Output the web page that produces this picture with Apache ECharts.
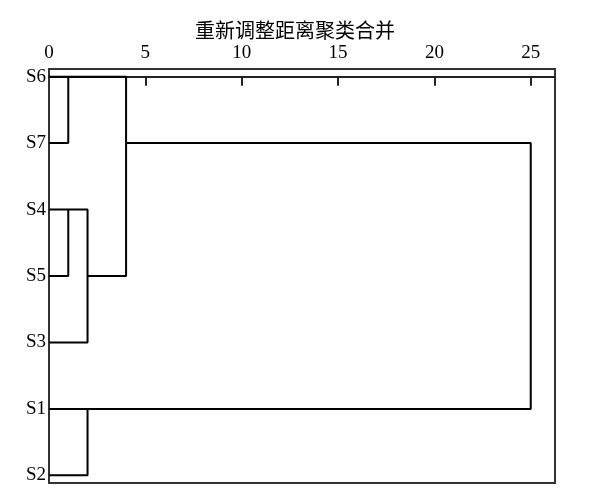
<!DOCTYPE html>
<html>
<head>
<meta charset="utf-8">
<script src="https://cdn.jsdelivr.net/npm/echarts@6/dist/echarts.min.js"></script>
<style>
    html, body { margin: 0; padding: 0; background: #fff; }
    #main { width: 602px; height: 501px; }
</style>
</head>
<body>
<div id="main"></div>
<script>
// leaves, top to bottom
var leafLabels = ['S6', 'S7', 'S4', 'S5', 'S3', 'S1', 'S2'];
// merges: node ids 0..6 are leaves, 7.. are merges in this order
var mergeLeft = [0, 2, 8, 7, 5, 10];
var mergeRight = [1, 3, 4, 9, 6, 11];
var mergeHeight = [1, 1, 2, 4, 2, 25];
var xTicks = [0, 5, 10, 15, 20, 25];

var nodePos = [];
var nodeHeight = [];
for (var i = 0; i < leafLabels.length; i++) {
    nodePos.push(i);
    nodeHeight.push(0);
}

var series = [];
for (var m = 0; m < mergeHeight.length; m++) {
    var a = mergeLeft[m];
    var b = mergeRight[m];
    var h = mergeHeight[m];
    series.push({
        type: 'line',
        symbol: 'none',
        silent: true,
        animation: false,
        lineStyle: { color: '#000', width: 2 },
        data: [
            [nodeHeight[a], nodePos[a]],
            [h, nodePos[a]],
            [h, nodePos[b]],
            [nodeHeight[b], nodePos[b]]
        ]
    });
    // SPSS style: merged cluster sits at floor of the mean position
    nodePos.push(Math.floor((nodePos[a] + nodePos[b]) / 2));
    nodeHeight.push(h);
}

var myChart = echarts.init(document.getElementById('main'));
var option = {
    backgroundColor: '#fff',
    title: {
        text: '重新调整距离聚类合并',
        left: 190,
        top: 15,
        textStyle: {
            fontFamily: 'Noto Sans CJK SC',
            fontSize: 20,
            fontWeight: 'normal',
            color: '#000'
        }
    },
    grid: {
        left: 49,
        right: 47,
        top: 69,
        bottom: 18,
        show: true,
        borderColor: '#333',
        borderWidth: 2,
        backgroundColor: 'transparent'
    },
    xAxis: {
        type: 'value',
        position: 'top',
        min: 0,
        max: 26.26,
        splitLine: { show: false },
        axisLine: { show: true, lineStyle: { color: '#222', width: 2 } },
        axisTick: {
            show: true,
            inside: true,
            length: 9,
            customValues: xTicks.slice(1),
            lineStyle: { color: '#222', width: 2 }
        },
        axisLabel: {
            customValues: xTicks,
            margin: 6,
            fontFamily: 'Liberation Serif',
            fontSize: 19,
            color: '#000'
        }
    },
    yAxis: {
        type: 'value',
        inverse: true,
        min: -0.115,
        max: 6.115,
        splitLine: { show: false },
        axisLine: { show: false },
        axisTick: { show: false },
        axisLabel: {
            customValues: leafLabels.map(function (d, i) { return i; }),
            formatter: function (v) { return leafLabels[v]; },
            margin: 3,
            fontFamily: 'Liberation Serif',
            fontSize: 19,
            color: '#000'
        }
    },
    series: series
};
myChart.setOption(option);
</script>
</body>
</html>
